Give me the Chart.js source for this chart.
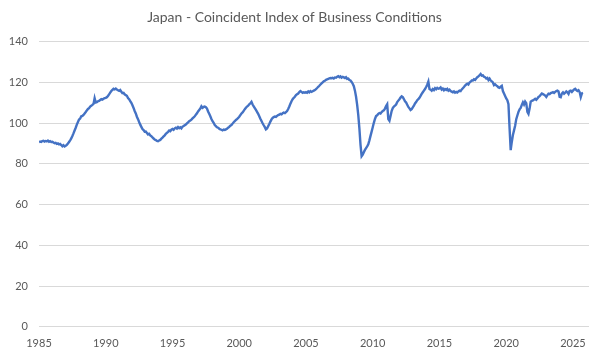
<!DOCTYPE html>
<html>
<head>
<meta charset="utf-8">
<script src="https://cdn.jsdelivr.net/npm/chart.js@4.4.1/dist/chart.umd.min.js"></script>
<style>
  html, body { margin: 0; padding: 0; background: #ffffff; }
  #wrap { width: 600px; height: 360px; }
</style>
</head>
<body>
<div id="wrap"><canvas id="c" width="600" height="360"></canvas></div>
<script>
const chartTitle = "Japan - Coincident Index of Business Conditions";
const startYear = 1985;          // first monthly observation: Jan 1985
const tickYears = [1985, 1990, 1995, 2000, 2005, 2010, 2015, 2020, 2025];
const yTicks = [0, 20, 40, 60, 80, 100, 120, 140];
// monthly values, Jan 1985 onwards
const values = [
  // 1985
  90.6, 91.0, 90.8, 91.2, 91.4, 91.0, 91.3, 91.1, 91.5, 90.9, 91.2, 90.8,
  // 1986
  90.9, 90.5, 90.2, 90.4, 89.9, 90.1, 89.6, 89.8, 89.3, 88.7, 89.2, 88.6,
  // 1987
  88.9, 89.4, 90.0, 90.8, 91.6, 92.5, 93.7, 95.0, 96.4, 97.8, 99.3, 100.6,
  // 1988
  101.8, 102.3, 103.4, 103.6, 104.1, 104.8, 105.5, 106.3, 107.0, 107.4, 108.2, 108.6,
  // 1989
  109.0, 109.5, 112.3, 110.2, 110.4, 110.8, 111.0, 111.4, 111.8, 111.6, 112.0, 112.3,
  // 1990
  112.5, 112.8, 113.4, 114.2, 115.0, 115.8, 116.4, 116.9, 116.6, 117.0, 116.5, 116.2,
  // 1991
  115.9, 116.3, 115.5, 114.8, 114.9, 114.2, 113.8, 113.5, 112.4, 111.8, 110.9, 110.0,
  // 1992
  108.8, 107.5, 106.0, 104.8, 103.2, 102.0, 100.6, 99.3, 98.2, 97.1, 96.6, 95.8,
  // 1993
  95.9, 95.2, 94.5, 94.8, 94.0, 93.6, 93.0, 92.5, 92.0, 91.7, 91.3, 91.2,
  // 1994
  91.5, 91.8, 92.4, 92.9, 93.5, 94.0, 94.8, 95.3, 95.8, 96.4, 96.1, 96.8,
  // 1995
  97.2, 96.8, 97.5, 97.8, 97.4, 98.1, 97.6, 98.0, 97.5, 98.3, 98.6, 99.0,
  // 1996
  99.4, 99.9, 100.4, 101.0, 101.3, 101.8, 102.4, 102.9, 103.4, 104.2, 104.9, 105.8,
  // 1997
  106.5, 107.2, 108.3, 107.6, 108.0, 108.2, 107.9, 107.2, 105.8, 104.6, 103.4, 102.1,
  // 1998
  101.0, 100.2, 99.1, 98.6, 98.0, 97.8, 97.3, 97.0, 96.8, 96.5, 96.9, 96.7,
  // 1999
  97.0, 97.3, 97.8, 98.2, 98.8, 99.1, 99.8, 100.5, 101.0, 101.6, 102.0, 102.6,
  // 2000
  103.2, 104.0, 104.8, 105.3, 106.1, 106.9, 107.6, 108.2, 108.6, 109.3, 109.8, 110.5,
  // 2001
  109.2, 108.3, 107.4, 106.5, 105.6, 104.6, 103.4, 102.2, 101.1, 100.0, 99.0, 98.1,
  // 2002
  97.0, 97.4, 98.5, 99.6, 100.8, 101.9, 102.6, 103.0, 103.3, 103.1, 103.6, 104.0,
  // 2003
  104.2, 104.6, 104.4, 104.9, 105.2, 105.0, 105.5, 106.0, 107.0, 108.2, 109.6, 110.8,
  // 2004
  111.8, 112.5, 113.0, 113.8, 114.2, 114.6, 115.3, 115.8, 115.4, 114.9, 115.2, 115.0,
  // 2005
  115.3, 115.0, 115.6, 115.2, 115.8, 115.4, 115.7, 116.0, 116.3, 116.8, 117.3, 117.9,
  // 2006
  118.4, 119.0, 119.6, 120.1, 120.6, 120.9, 121.3, 121.6, 121.8, 122.0, 122.2, 122.1,
  // 2007
  122.3, 122.0, 122.5, 122.4, 122.8, 123.1, 122.6, 123.0, 122.4, 122.8, 122.5, 122.2,
  // 2008
  122.6, 121.8, 121.9, 121.2, 121.0, 120.3, 119.4, 118.2, 116.0, 113.0, 109.0, 104.0,
  // 2009
  97.5, 89.5, 83.8, 84.6, 85.8, 86.9, 87.8, 88.6, 89.6, 91.6, 93.8, 95.9,
  // 2010
  98.0, 100.2, 102.1, 103.5, 103.9, 104.6, 105.0, 104.8, 105.5, 106.0, 106.3, 107.2,
  // 2011
  108.4, 109.3, 102.0, 101.2, 103.6, 106.0, 107.4, 108.2, 108.6, 109.2, 110.4, 111.1,
  // 2012
  111.8, 112.6, 113.2, 112.8, 111.9, 110.8, 110.2, 109.1, 108.0, 107.3, 106.5, 106.9,
  // 2013
  107.8, 108.6, 109.7, 110.4, 111.3, 111.8, 112.5, 113.4, 114.4, 115.2, 116.0, 116.8,
  // 2014
  117.8, 118.9, 120.4, 116.8, 116.5, 116.0, 116.8, 116.3, 117.2, 116.7, 117.4, 117.0,
  // 2015
  117.1, 117.6, 116.5, 117.0, 116.2, 116.8, 116.4, 116.9, 116.0, 116.5, 115.8, 115.5,
  // 2016
  115.2, 115.6, 115.0, 115.4, 115.1, 115.6, 116.0, 115.8, 116.6, 117.2, 117.8, 118.5,
  // 2017
  119.0, 119.4, 119.0, 120.0, 120.4, 121.0, 121.0, 121.6, 121.3, 122.0, 122.6, 123.0,
  // 2018
  123.6, 124.2, 123.4, 123.5, 122.8, 122.6, 122.0, 122.3, 121.2, 121.9, 121.0, 120.6,
  // 2019
  120.0, 118.7, 119.1, 118.6, 118.2, 117.6, 117.4, 118.0, 118.4, 115.8, 114.6, 113.4,
  // 2020
  112.2, 111.3, 109.3, 97.5, 86.8, 90.8, 94.2, 96.5, 98.8, 102.0, 103.8, 105.6,
  // 2021
  106.8, 107.5, 109.0, 110.3, 109.2, 110.6, 109.8, 105.6, 104.6, 107.2, 110.6, 111.0,
  // 2022
  111.2, 111.6, 112.0, 111.5, 112.2, 112.9, 113.3, 114.0, 114.6, 114.3, 114.0, 113.6,
  // 2023
  112.9, 113.8, 114.5, 114.3, 114.8, 115.0, 115.3, 114.9, 115.4, 115.8, 116.0, 115.6,
  // 2024
  113.0, 112.8, 114.6, 115.2, 114.5, 115.0, 115.6, 115.2, 114.4, 115.8, 116.0, 115.4,
  // 2025
  116.0, 116.6, 116.9, 116.3, 115.8, 116.2, 115.3, 112.9, 114.7, 114.9
];

const points = values.map((v, i) => ({ x: startYear + i / 12, y: v }));
const textColor = '#595959';
const fontFamily = 'Lato, "Liberation Sans", sans-serif';

new Chart(document.getElementById('c'), {
  type: 'line',
  data: {
    datasets: [{
      data: points,
      borderColor: '#4472C4',
      borderWidth: 2.4,
      pointRadius: 0,
      tension: 0,
      fill: false
    }]
  },
  options: {
    responsive: false,
    animation: false,
    layout: { padding: { left: 0, right: 11, top: 0, bottom: 0 } },
    plugins: {
      legend: { display: false },
      tooltip: { enabled: false },
      title: {
        display: true,
        text: chartTitle,
        color: textColor,
        font: { family: fontFamily, size: 14, weight: 'normal' },
        padding: { top: 9, bottom: 16 }
      }
    },
    scales: {
      x: {
        type: 'linear',
        min: startYear,
        max: 2026.2,
        afterBuildTicks: (s) => { s.ticks = tickYears.map(v => ({ value: v })); },
        grid: { display: false, drawTicks: false },
        border: { display: false },
        ticks: {
          color: textColor,
          font: { family: fontFamily, size: 11 },
          padding: 10,
          maxRotation: 0,
          autoSkip: false,
          callback: (v) => String(v)
        }
      },
      y: {
        min: 0,
        max: 140,
        afterBuildTicks: (s) => { s.ticks = yTicks.map(v => ({ value: v })); },
        afterFit: (s) => { s.width = 39; },
        grid: { color: '#d9d9d9', lineWidth: 1, drawTicks: false },
        border: { display: false },
        ticks: {
          color: textColor,
          font: { family: fontFamily, size: 11 },
          padding: 11
        }
      }
    }
  }
});
</script>
</body>
</html>
